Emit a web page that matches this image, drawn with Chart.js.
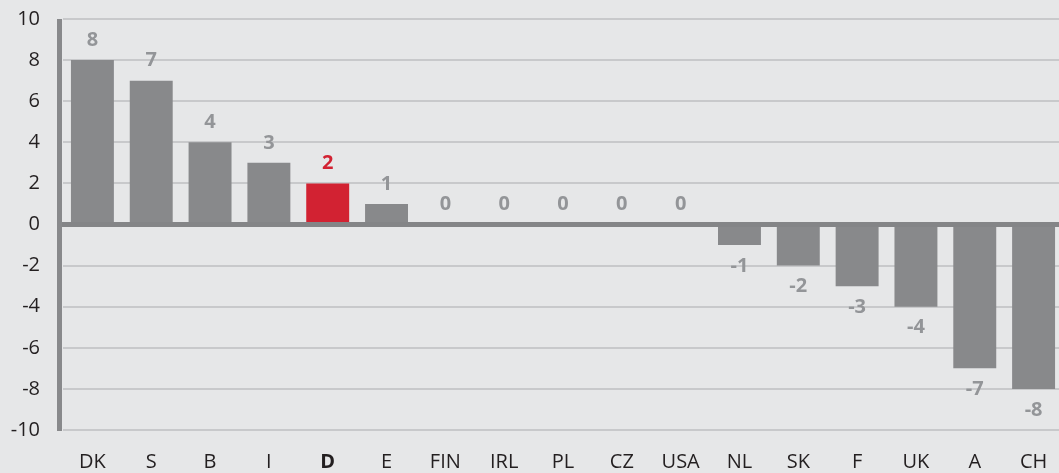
<!DOCTYPE html>
<html>
<head>
<meta charset="utf-8">
<script src="https://cdn.jsdelivr.net/npm/chart.js@4"></script>
<style>
  html, body { margin: 0; padding: 0; background: #e6e7e8; overflow: hidden; }
  #wrap { width: 1063px; height: 473px; }
</style>
</head>
<body>
<div id="wrap"><canvas id="balanceChart"></canvas></div>
<script>
const countries = ['DK', 'S', 'B', 'I', 'D', 'E', 'FIN', 'IRL', 'PL', 'CZ', 'USA', 'NL', 'SK', 'F', 'UK', 'A', 'CH'];
const balance = [8, 7, 4, 3, 2, 1, 0, 0, 0, 0, 0, -1, -2, -3, -4, -7, -8];
const highlight = 'D';

const GREY = '#88898b';
const RED = '#d22232';
const LABEL_GREY = '#939598';
const FONT = '"Open Sans", "Noto Sans", sans-serif';

// left axis bar, heavy zero line and value labels above/below the bars
const barLabels = {
    id: 'barLabels',
    afterDatasetsDraw(chart) {
        const ctx = chart.ctx;
        const area = chart.chartArea;
        const y0 = chart.scales.y.getPixelForValue(0);
        ctx.save();
        ctx.fillStyle = GREY;
        ctx.fillRect(area.left - 6, area.top, 5, area.bottom - area.top + 1);
        ctx.fillStyle = '#848587';
        ctx.fillRect(area.left - 1, y0 - 2.5, area.right - area.left + 1, 5);

        const meta = chart.getDatasetMeta(0);
        ctx.font = 'bold 20px ' + FONT;
        ctx.textAlign = 'center';
        ctx.textBaseline = 'middle';
        meta.data.forEach((bar, i) => {
            const v = balance[i];
            ctx.fillStyle = countries[i] === highlight ? RED : LABEL_GREY;
            const y = v < 0 ? bar.y + 21 : bar.y - 20;
            ctx.fillText(String(v), bar.x, y);
        });
        ctx.restore();
    }
};

new Chart(document.getElementById('balanceChart'), {
    type: 'bar',
    data: {
        labels: countries,
        datasets: [{
            data: balance,
            backgroundColor: countries.map(c => c === highlight ? RED : GREY),
            borderWidth: 0,
            barPercentage: 0.73,
            categoryPercentage: 1
        }]
    },
    options: {
        responsive: true,
        maintainAspectRatio: false,
        animation: false,
        layout: { padding: { top: 19, left: 8, right: 0, bottom: 0 } },
        plugins: {
            legend: { display: false },
            tooltip: { enabled: false }
        },
        scales: {
            x: {
                grid: { display: false, drawTicks: false },
                border: { display: false },
                afterFit: scale => { scale.height = 43; scale.paddingLeft = 0; scale.paddingRight = 0; },
                ticks: {
                    color: '#231f20',
                    padding: 20,
                    maxRotation: 0,
                    autoSkip: false,
                    font: ctx => ({
                        family: FONT,
                        size: 20,
                        weight: countries[ctx.index] === highlight ? 'bold' : 'normal'
                    })
                }
            },
            y: {
                min: -10,
                max: 10,
                afterFit: scale => { scale.width = 55; scale.paddingTop = 0; scale.paddingBottom = 0; },
                grid: {
                    color: '#c8c9cb',
                    lineWidth: 2,
                    drawTicks: false
                },
                border: { display: false },
                ticks: {
                    stepSize: 2,
                    color: '#231f20',
                    padding: 23,
                    font: { family: FONT, size: 20 }
                }
            }
        }
    },
    plugins: [barLabels]
});
</script>
</body>
</html>
